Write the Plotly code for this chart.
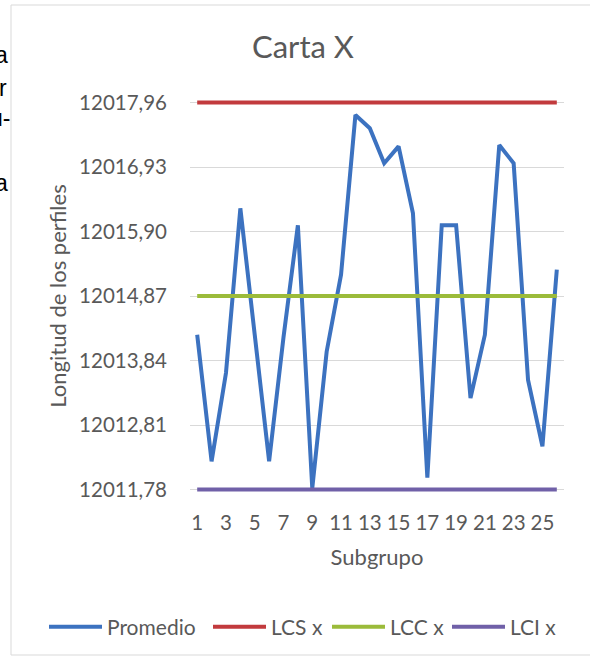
import plotly.graph_objects as go

# ---- data ----
subgrupos = list(range(1, 27))
promedio = [12014.25, 12012.23, 12013.64, 12016.27, 12014.25, 12012.23, 12014.21, 12016.00,
            12011.80, 12013.98, 12015.21, 12017.76, 12017.55, 12016.99, 12017.26, 12016.19,
            12011.97, 12016.00, 12016.00, 12013.24, 12014.25, 12017.28, 12016.99, 12013.53,
            12012.47, 12015.29]
lcs_x = 12017.96
lcc_x = 12014.87
lci_x = 12011.78

y_tick_vals = [12011.78, 12012.81, 12013.84, 12014.87, 12015.90, 12016.93, 12017.96]
y_tick_text = ["12011,78", "12012,81", "12013,84", "12014,87", "12015,90", "12016,93", "12017,96"]
x_tick_vals = [1, 3, 5, 7, 9, 11, 13, 15, 17, 19, 21, 23, 25]
x_tick_text = ["1", "3", "5", "7", "9", "11", "13", "15", "17", "19", "21", "23", "25"]

side_text = ["a", "r", "u-", "a"]
side_text_y = [55, 88, 118, 183]
side_text_right = [10, 9, 12, 10]

FONT = "Lato"
GRAY = "#595959"

W, H = 590, 664
L, R, T, B = 190, 26, 100, 172
pw, ph = W - L - R, H - T - B


def px_x(p):
    return (p - L) / pw


def px_y(p):
    return (H - B - p) / ph


series = [
    ("Promedio", promedio, "#3C72C0", "legend", 44),
    ("LCS x", [lcs_x] * len(subgrupos), "#C23A3D", "legend2", 208),
    ("LCC x", [lcc_x] * len(subgrupos), "#9BBB3A", "legend3", 327),
    ("LCI x", [lci_x] * len(subgrupos), "#7060A8", "legend4", 447),
]

fig = go.Figure()
legend_layouts = {}
for name, vals, color, lg, box_left in series:
    fig.add_trace(go.Scatter(x=subgrupos, y=vals, name=name, mode="lines",
                             line=dict(color=color, width=4), legend=lg))
    legend_layouts[lg] = dict(orientation="h", x=px_x(box_left), xanchor="left",
                              y=px_y(627), yanchor="middle", itemwidth=53,
                              font=dict(family=FONT, size=21, color=GRAY),
                              bgcolor="rgba(0,0,0,0)")

shapes = [dict(type="rect", xref="paper", yref="paper",
               x0=px_x(11), x1=px_x(600), y0=px_y(655), y1=px_y(5),
               line=dict(color="#d9d9d9", width=1), fillcolor="rgba(0,0,0,0)", layer="below")]

annotations = []
for t, yy, xr in zip(side_text, side_text_y, side_text_right):
    annotations.append(dict(text=t, xref="paper", yref="paper", x=px_x(xr), y=px_y(yy),
                            xanchor="right", yanchor="middle", showarrow=False,
                            font=dict(family="Liberation Sans", size=23, color="#000000")))

fig.update_layout(
    width=W, height=H,
    margin=dict(l=L, r=R, t=T, b=B, autoexpand=False),
    paper_bgcolor="white", plot_bgcolor="white",
    font=dict(family=FONT, color=GRAY, size=20),
    title=dict(text="Carta X", x=303 / W, xanchor="center", y=1 - 47 / H, yanchor="middle",
               font=dict(family=FONT, size=31, color=GRAY)),
    showlegend=True,
    shapes=shapes,
    annotations=annotations,
    **legend_layouts,
)
fig.update_xaxes(range=[0.5, 26.5], tickmode="array", tickvals=x_tick_vals, ticktext=x_tick_text,
                 showgrid=False, zeroline=False, showline=False, ticks="",
                 tickfont=dict(family=FONT, size=20.5, color=GRAY), ticklabelstandoff=16,
                 title=dict(text="Subgrupo", standoff=17, font=dict(family=FONT, size=22, color=GRAY)))
fig.update_yaxes(range=[lci_x - 0.04, lcs_x + 0.04], tickmode="array", tickvals=y_tick_vals,
                 ticktext=y_tick_text, showgrid=True, gridcolor="#d9d9d9", gridwidth=1,
                 zeroline=False, showline=False, ticks="",
                 tickfont=dict(family=FONT, size=20.5, color=GRAY), ticklabelstandoff=22,
                 title=dict(text="Longitud de los perfiles", standoff=6,
                            font=dict(family=FONT, size=22, color=GRAY)))

fig.write_html("out.html")
